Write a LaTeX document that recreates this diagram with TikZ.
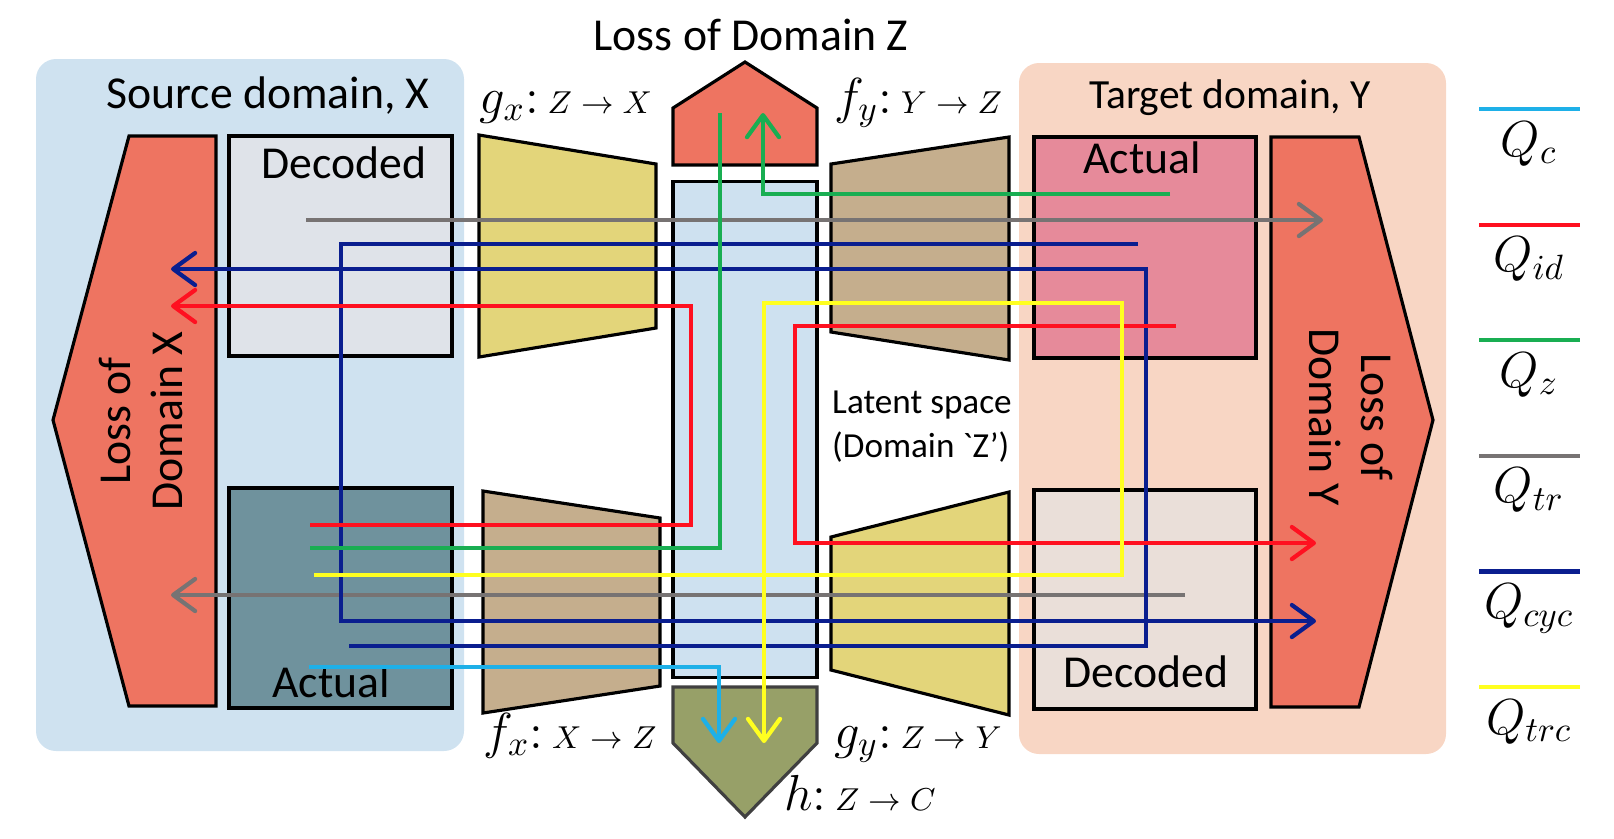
\documentclass[tikz,border=0pt]{standalone}
\usepackage{fontspec}
\setmainfont{Carlito}
\usetikzlibrary{arrows.meta}
\tikzset{>={Straight Barb[length=2.2mm,width=3.2mm,round]}}
\definecolor{srcpanel}{HTML}{CFE2F0}
\definecolor{tgtpanel}{HTML}{F8D6C4}
\definecolor{losscol}{HTML}{EE7461}
\definecolor{decxcol}{HTML}{DFE3E9}
\definecolor{actxcol}{HTML}{6F929D}
\definecolor{actycol}{HTML}{E68A9A}
\definecolor{decycol}{HTML}{EADFD9}
\definecolor{latcol}{HTML}{CEE1F0}
\definecolor{yellowenc}{HTML}{E3D57A}
\definecolor{tanenc}{HTML}{C5AE8D}
\definecolor{clscol}{HTML}{97A068}
\definecolor{cqc}{HTML}{1EB0E8}
\definecolor{cqid}{HTML}{FF1020}
\definecolor{cqz}{HTML}{19AE52}
\definecolor{cqtr}{HTML}{777373}
\definecolor{cqcyc}{HTML}{0A1E8F}
\definecolor{cqtrc}{HTML}{FFFF20}
\newcommand{\maplbl}[2]{$#1\colon\,$\fontsize{9}{11}\selectfont$#2$}
\tikzset{
  box/.style={draw=black,line width=0.9pt,inner sep=0},
  shp/.style={draw=black,line width=0.9pt},
  txt/.style={font=\fontsize{13}{15}\selectfont,inner sep=0,anchor=base},
  mlbl/.style={font=\fontsize{14}{16}\selectfont,inner sep=0,anchor=base},
  qc/.style={line width=1.2pt,color=cqc},
  qid/.style={line width=1.2pt,color=cqid},
  qz/.style={line width=1.2pt,color=cqz},
  qtr/.style={line width=1.2pt,color=cqtr},
  qcyc/.style={line width=1.2pt,color=cqcyc},
  qtrc/.style={line width=1.2pt,color=cqtrc}
}

\begin{document}
\begin{tikzpicture}[x=0.01cm,y=-0.01cm]
	\useasboundingbox (0,0) rectangle (1614,838);
	\fill[srcpanel,rounded corners=0.2cm] (36,59) rectangle (464,751);
	\fill[tgtpanel,rounded corners=0.2cm] (1019,63) rectangle (1446,754);

	\node[box,fill=decxcol,minimum width=2.23cm,minimum height=2.2cm] (decX) at (340.5,246) {};
	\node[box,fill=actxcol,minimum width=2.23cm,minimum height=2.2cm] (actX) at (340.5,598) {};
	\node[box,fill=actycol,minimum width=2.22cm,minimum height=2.21cm] (actY) at (1145,247.5) {};
	\node[box,fill=decycol,minimum width=2.22cm,minimum height=2.19cm] (decY) at (1145,599.5) {};
	\node[box,fill=latcol,minimum width=1.44cm,minimum height=4.95cm] (lat) at (745,429.5) {};

	\draw[shp,fill=losscol] (129,136) -- (216,136) -- (216,706) -- (129,706) -- (53,420) -- cycle;
	\draw[shp,fill=losscol] (1271,137) -- (1359,137) -- (1433,420) -- (1359,707) -- (1271,707) -- cycle;
	\draw[shp,fill=losscol] (673,165) -- (673,108) -- (745,62) -- (817,108) -- (817,165) -- cycle;
	\draw[shp,draw=black!75,fill=clscol] (673,687) -- (817,687) -- (817,743) -- (745,817) -- (673,743) -- cycle;
	\draw[shp,fill=yellowenc] (479,135) -- (656,164) -- (656,328) -- (479,357) -- cycle;
	\draw[shp,fill=tanenc] (831,164) -- (1009,137) -- (1009,360) -- (831,332) -- cycle;
	\draw[shp,fill=tanenc] (483,491) -- (660,518) -- (660,686) -- (483,713) -- cycle;
	\draw[shp,fill=yellowenc] (831,537) -- (1009,492) -- (1009,715) -- (831,670) -- cycle;

	\node[txt] (srcT) at (268,108) {Source domain, X};
	\node[txt,font=\fontsize{11.8}{14}\selectfont] (tgtT) at (1230,108) {Target domain, Y};
	\node[txt] (lossZT) at (751,50) {Loss of Domain Z};
	\node[txt] (decXT) at (344,178) {Decoded};
	\node[txt] (actXT) at (331,697) {Actual};
	\node[txt] (actYT) at (1142,173) {Actual};
	\node[txt] (decYT) at (1146,687) {Decoded};
	\node[txt,anchor=center,rotate=90,align=center] (lossXT) at (141,421) {Loss of\\Domain X};
	\node[txt,anchor=center,rotate=-90,align=center] (lossYT) at (1351,417) {Loss of\\Domain Y};
	\node[inner sep=0,align=left,font=\fontsize{10}{12.5}\selectfont] (latT) at (922,427) {Latent space\\(Domain \textasciigrave Z’)};

	\node[mlbl] (gxL) at (566,113) {\maplbl{g_x}{Z\rightarrow X}};
	\node[mlbl] (fyL) at (918,113) {\maplbl{f_y}{Y\rightarrow Z}};
	\node[mlbl] (fxL) at (570,748) {\maplbl{f_x}{X\rightarrow Z}};
	\node[mlbl] (gyL) at (918,748) {\maplbl{g_y}{Z\rightarrow Y}};
	\node[mlbl] (hL) at (860,810) {\maplbl{h}{Z\rightarrow C}};

	\coordinate (trA) at (306,220); \coordinate (trAe) at (1323,220);
	\coordinate (trB) at (1185,595); \coordinate (trBe) at (171,595);
	\coordinate (cycA) at (1138,244); \coordinate (cycAk) at (341,621); \coordinate (cycAe) at (1316,621);
	\coordinate (cycB) at (349,646); \coordinate (cycBk) at (1146,269); \coordinate (cycBe) at (171,269);
	\coordinate (idA) at (310,525); \coordinate (idAk) at (691,306); \coordinate (idAe) at (171,306);
	\coordinate (idB) at (1176,326); \coordinate (idBk) at (795,543); \coordinate (idBe) at (1316,543);
	\coordinate (zA) at (310,548); \coordinate (zAe) at (720,113);
	\coordinate (zB) at (1170,194); \coordinate (zBe) at (763,113);
	\coordinate (trcA) at (314,575); \coordinate (trcAk) at (1122,303); \coordinate (trcAe) at (764,743);
	\coordinate (cA) at (309,667); \coordinate (cAe) at (719,743);

	\draw[qtr,->] (trA) -- (trAe);
	\draw[qtr,->] (trB) -- (trBe);
	\draw[qcyc,->] (cycA) -| (cycAk) -- (cycAe);
	\draw[qcyc,->] (cycB) -| (cycBk) -- (cycBe);
	\draw[qid,->] (idA) -| (idAk) -- (idAe);
	\draw[qid,->] (idB) -| (idBk) -- (idBe);
	\draw[qz] (zA) -| (zAe);
	\draw[qz,->] (zB) -| (zBe);
	\draw[qtrc,->] (trcA) -| (trcAk) -| (trcAe);
	\draw[qc,->] (cA) -| (cAe);

	\foreach \s/\t [count=\i from 0] in {qc/c,qid/id,qz/z,qtr/tr,qcyc/cyc,qtrc/trc}{
		\pgfmathsetmacro{\ly}{109+115.6*\i}
		\draw[\s] (1479,\ly) -- (1580,\ly);
		\node[mlbl] (lg\t) at (1529,{\ly+47}) {$Q_{\t}$};
	}
\end{tikzpicture}
\end{document}
